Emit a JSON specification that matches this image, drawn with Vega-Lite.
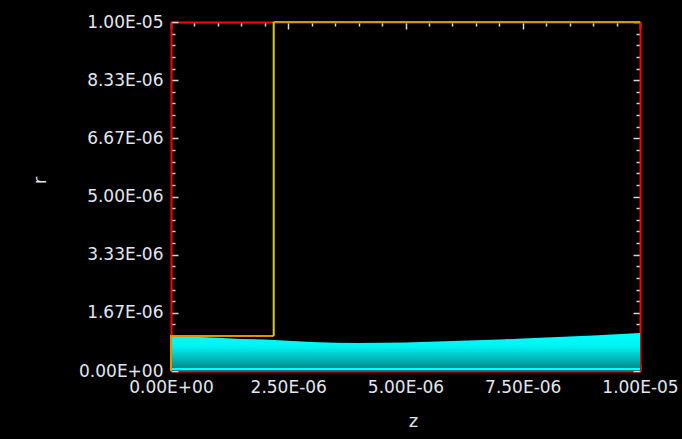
{
  "$schema": "https://vega.github.io/schema/vega-lite/v6.json",
  "width": 469,
  "height": 349,
  "autosize": "none",
  "padding": {"left": 171, "top": 22, "right": 42, "bottom": 68},
  "background": "#000000",
  "config": {
    "view": {"stroke": null},
    "axis": {
      "grid": false,
      "domainColor": "#ff0000",
      "domainWidth": 2,
      "tickColor": "#d8d8d8",
      "tickWidth": 1.5,
      "labelColor": "#e2e6ee",
      "labelFont": "DejaVu Sans",
      "labelFontSize": 17,
      "titleColor": "#e2e6ee",
      "titleFont": "DejaVu Sans",
      "titleFontSize": 18,
      "titleFontWeight": "normal"
    }
  },
  "datasets": {
    "beam": [
      {"z": 0, "r": 1.0e-6},
      {"z": 0.5e-6, "r": 0.98e-6},
      {"z": 1.0e-6, "r": 0.95e-6},
      {"z": 1.5e-6, "r": 0.92e-6},
      {"z": 2.0e-6, "r": 0.90e-6},
      {"z": 2.5e-6, "r": 0.87e-6},
      {"z": 3.0e-6, "r": 0.83e-6},
      {"z": 3.5e-6, "r": 0.81e-6},
      {"z": 4.0e-6, "r": 0.80e-6},
      {"z": 4.5e-6, "r": 0.81e-6},
      {"z": 5.0e-6, "r": 0.82e-6},
      {"z": 5.5e-6, "r": 0.84e-6},
      {"z": 6.0e-6, "r": 0.86e-6},
      {"z": 6.5e-6, "r": 0.88e-6},
      {"z": 7.0e-6, "r": 0.90e-6},
      {"z": 7.5e-6, "r": 0.93e-6},
      {"z": 8.0e-6, "r": 0.96e-6},
      {"z": 8.5e-6, "r": 0.99e-6},
      {"z": 9.0e-6, "r": 1.02e-6},
      {"z": 9.5e-6, "r": 1.05e-6},
      {"z": 1.0e-5, "r": 1.09e-6}
    ],
    "axisline": [
      {"z": 0, "r": 0.06e-6},
      {"z": 1.0e-5, "r": 0.06e-6}
    ],
    "boundary": [
      {"seg": "h1", "kind": "h", "ord": 0, "z": 0, "r": 0},
      {"seg": "h1", "kind": "h", "ord": 1, "z": 0, "r": 1.0e-6},
      {"seg": "h1", "kind": "h", "ord": 2, "z": 2.19e-6, "r": 1.0e-6},
      {"seg": "v", "kind": "v", "ord": 0, "z": 2.19e-6, "r": 1.0e-6},
      {"seg": "v", "kind": "v", "ord": 1, "z": 2.19e-6, "r": 1.0e-5},
      {"seg": "h2", "kind": "h", "ord": 0, "z": 2.19e-6, "r": 1.0e-5},
      {"seg": "h2", "kind": "h", "ord": 1, "z": 1.0e-5, "r": 1.0e-5}
    ]
  },
  "layer": [
    {
      "data": {"name": "beam"},
      "mark": {
        "type": "area",
        "color": {
          "gradient": "linear",
          "x1": 0, "y1": 0, "x2": 0, "y2": 1,
          "stops": [
            {"offset": 0, "color": "#00ffff"},
            {"offset": 0.35, "color": "#00f2f2"},
            {"offset": 0.7, "color": "#00b4b4"},
            {"offset": 1, "color": "#007a7a"}
          ]
        }
      },
      "encoding": {
        "x": {
          "field": "z", "type": "quantitative",
          "scale": {"domain": [0, 1e-5], "nice": false, "zero": false},
          "axis": {
            "orient": "bottom",
            "title": "z",
            "values": [0, 5e-7, 1e-6, 1.5e-6, 2e-6, 2.5e-6, 3e-6, 3.5e-6, 4e-6, 4.5e-6, 5e-6, 5.5e-6, 6e-6, 6.5e-6, 7e-6, 7.5e-6, 8e-6, 8.5e-6, 9e-6, 9.5e-6, 1e-5],
            "tickSize": {"condition": {"test": "abs(datum.value*4e5 - round(datum.value*4e5)) < 0.01", "value": -7}, "value": -4},
            "labelPadding": 15,
            "labelFlush": false,
            "labelOverlap": false,
            "labelExpr": "abs(datum.value*4e5 - round(datum.value*4e5)) < 0.01 ? (datum.value == 0 ? '0.00E+00' : format(datum.value/pow(10, floor(log(datum.value)/LN10 + 1e-9)), '.2f') + 'E-' + ((-floor(log(datum.value)/LN10 + 1e-9)) < 10 ? '0' : '') + (-floor(log(datum.value)/LN10 + 1e-9))) : ''",
            "titleX": 242,
            "titleY": 50,
            "titleBaseline": "middle",
            "titleAlign": "center"
          }
        },
        "y": {
          "field": "r", "type": "quantitative",
          "scale": {"domain": [0, 1e-5], "nice": false, "zero": false},
          "axis": {
            "orient": "left",
            "title": "r",
            "values": [0, 3.333333333e-7, 6.666666667e-7, 1e-6, 1.333333333e-6, 1.666666667e-6, 2e-6, 2.333333333e-6, 2.666666667e-6, 3e-6, 3.333333333e-6, 3.666666667e-6, 4e-6, 4.333333333e-6, 4.666666667e-6, 5e-6, 5.333333333e-6, 5.666666667e-6, 6e-6, 6.333333333e-6, 6.666666667e-6, 7e-6, 7.333333333e-6, 7.666666667e-6, 8e-6, 8.333333333e-6, 8.666666667e-6, 9e-6, 9.333333333e-6, 9.666666667e-6, 1e-5],
            "tickSize": {"condition": {"test": "abs(datum.value*6e5 - round(datum.value*6e5)) < 0.01", "value": -7}, "value": -4},
            "labelPadding": 15,
            "labelFlush": false,
            "labelOverlap": false,
            "labelExpr": "abs(datum.value*6e5 - round(datum.value*6e5)) < 0.01 ? (datum.value == 0 ? '0.00E+00' : format(datum.value/pow(10, floor(log(datum.value)/LN10 + 1e-9)), '.2f') + 'E-' + ((-floor(log(datum.value)/LN10 + 1e-9)) < 10 ? '0' : '') + (-floor(log(datum.value)/LN10 + 1e-9))) : ''",
            "titleX": -131,
            "titleY": 158,
            "titleAlign": "center",
            "titleBaseline": "middle"
          }
        }
      }
    },
    {
      "data": {"name": "axisline"},
      "mark": {"type": "line", "color": "#00ffff", "strokeWidth": 2},
      "encoding": {
        "x": {
          "field": "z", "type": "quantitative",
          "scale": {"domain": [0, 1e-5], "nice": false, "zero": false},
          "axis": {
            "orient": "top",
            "title": null,
            "labels": false,
            "values": [0, 5e-7, 1e-6, 1.5e-6, 2e-6, 2.5e-6, 3e-6, 3.5e-6, 4e-6, 4.5e-6, 5e-6, 5.5e-6, 6e-6, 6.5e-6, 7e-6, 7.5e-6, 8e-6, 8.5e-6, 9e-6, 9.5e-6, 1e-5],
            "tickSize": {"condition": {"test": "abs(datum.value*4e5 - round(datum.value*4e5)) < 0.01", "value": -7}, "value": -4}
          }
        },
        "y": {
          "field": "r", "type": "quantitative",
          "scale": {"domain": [0, 1e-5], "nice": false, "zero": false},
          "axis": {
            "orient": "right",
            "title": null,
            "labels": false,
            "values": [0, 3.333333333e-7, 6.666666667e-7, 1e-6, 1.333333333e-6, 1.666666667e-6, 2e-6, 2.333333333e-6, 2.666666667e-6, 3e-6, 3.333333333e-6, 3.666666667e-6, 4e-6, 4.333333333e-6, 4.666666667e-6, 5e-6, 5.333333333e-6, 5.666666667e-6, 6e-6, 6.333333333e-6, 6.666666667e-6, 7e-6, 7.333333333e-6, 7.666666667e-6, 8e-6, 8.333333333e-6, 8.666666667e-6, 9e-6, 9.333333333e-6, 9.666666667e-6, 1e-5],
            "tickSize": {"condition": {"test": "abs(datum.value*6e5 - round(datum.value*6e5)) < 0.01", "value": -7}, "value": -4}
          }
        }
      }
    },
    {
      "data": {"name": "boundary"},
      "mark": {"type": "line", "strokeWidth": 2},
      "encoding": {
        "x": {"field": "z", "type": "quantitative", "scale": {"domain": [0, 1e-5], "nice": false, "zero": false}, "axis": null},
        "y": {"field": "r", "type": "quantitative", "scale": {"domain": [0, 1e-5], "nice": false, "zero": false}, "axis": null},
        "color": {"field": "kind", "type": "nominal", "scale": {"domain": ["h", "v"], "range": ["#e09000", "#d4d000"]}, "legend": null},
        "detail": {"field": "seg"},
        "order": {"field": "ord", "type": "quantitative"}
      }
    }
  ],
  "resolve": {"axis": {"x": "independent", "y": "independent"}}
}
